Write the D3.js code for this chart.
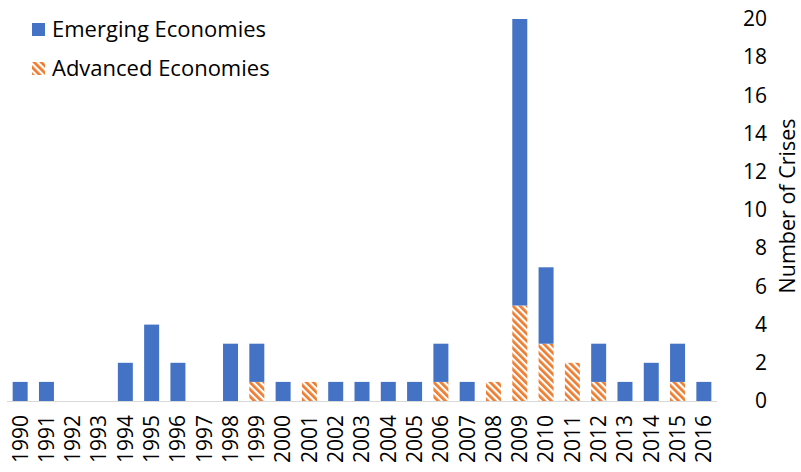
<!DOCTYPE html>
<html><head><meta charset="utf-8">
<script src="https://cdn.jsdelivr.net/npm/d3@7"></script>
<style>body{margin:0;background:#fff;} svg{display:block;}</style>
</head><body>
<svg id="c" width="801" height="472"></svg>
<script>
const years = ["1990","1991","1992","1993","1994","1995","1996","1997","1998","1999","2000","2001","2002","2003","2004","2005","2006","2007","2008","2009","2010","2011","2012","2013","2014","2015","2016"];
const advanced = [0,0,0,0,0,0,0,0,0,1,0,1,0,0,0,0,1,0,1,5,3,2,1,0,0,1,0];
const emerging = [1,1,0,0,2,4,2,0,3,2,1,0,1,1,1,1,2,1,0,15,4,0,2,1,2,2,1];
const yTicks = [0,2,4,6,8,10,12,14,16,18,20];
const seriesNames = ["Emerging Economies","Advanced Economies"];

const font = "'Open Sans', sans-serif";
const svg = d3.select("#c");
const defs = svg.append("defs");
const pat = defs.append("pattern").attr("id","hatch").attr("patternUnits","userSpaceOnUse")
  .attr("width",5).attr("height",5).attr("patternTransform","rotate(-45)");
pat.append("rect").attr("width",5).attr("height",5).attr("fill","#fff");
pat.append("rect").attr("width",2.8).attr("height",5).attr("fill","#ED7D31");

const x = d3.scaleBand().domain(years).range([7,717]).paddingInner(0.43).paddingOuter(0.215);
const y = d3.scaleLinear().domain([0,20]).range([401,19]);

const rows = years.map((yr,i)=>({year:yr, adv:advanced[i], emg:emerging[i]}));
const stack = d3.stack().keys(["adv","emg"])(rows);

// bars
svg.append("g").selectAll("rect").data(stack[0]).join("rect")
  .attr("x",d=>x(d.data.year)).attr("width",x.bandwidth())
  .attr("y",d=>y(d[1])).attr("height",d=>y(d[0])-y(d[1]))
  .attr("fill","url(#hatch)");
svg.append("g").selectAll("rect").data(stack[1]).join("rect")
  .attr("x",d=>x(d.data.year)).attr("width",x.bandwidth())
  .attr("y",d=>y(d[1])).attr("height",d=>y(d[0])-y(d[1]))
  .attr("fill","#4472C4");

// baseline
svg.append("line").attr("x1",7).attr("x2",717).attr("y1",y(0)+0.5).attr("y2",y(0)+0.5)
  .attr("stroke","#d9d9d9").attr("stroke-width",1.2);

// x axis labels
const xAxis = d3.axisBottom(x).tickSize(0).tickPadding(0);
const gx = svg.append("g").attr("transform",`translate(0,${y(0)})`).call(xAxis);
gx.select(".domain").remove();
gx.selectAll("text").attr("font-family",font).attr("font-size",21).attr("fill","#000")
  .attr("transform","rotate(-90)").attr("text-anchor","end")
  .attr("x",-14).attr("y",0).attr("dy","0.35em");

// y axis on right
const yAxis = d3.axisRight(y).tickValues(yTicks).tickSize(0).tickPadding(0);
const gy = svg.append("g").attr("transform","translate(767,0)").call(yAxis);
gy.select(".domain").remove();
gy.selectAll("text").attr("font-family",font).attr("font-size",21).attr("fill","#000")
  .attr("text-anchor","end").attr("x",0);

// y axis title
svg.append("text").attr("transform",`translate(795,${y(10)-4}) rotate(-90)`)
  .attr("text-anchor","middle").attr("font-family",font).attr("font-size",21.5).attr("fill","#000")
  .text("Number of Crises");

// legend
const leg = svg.append("g");
const fills = ["#4472C4","url(#hatch)"];
seriesNames.forEach((n,i)=>{
  const g = leg.append("g").attr("transform",`translate(32,${23+i*39})`);
  g.append("rect").attr("width",13).attr("height",13).attr("fill",fills[i]);
  g.append("text").attr("x",20).attr("y",14)
    .attr("font-family",font).attr("font-size",22).attr("fill","#000").text(n);
});
</script>
</body></html>
